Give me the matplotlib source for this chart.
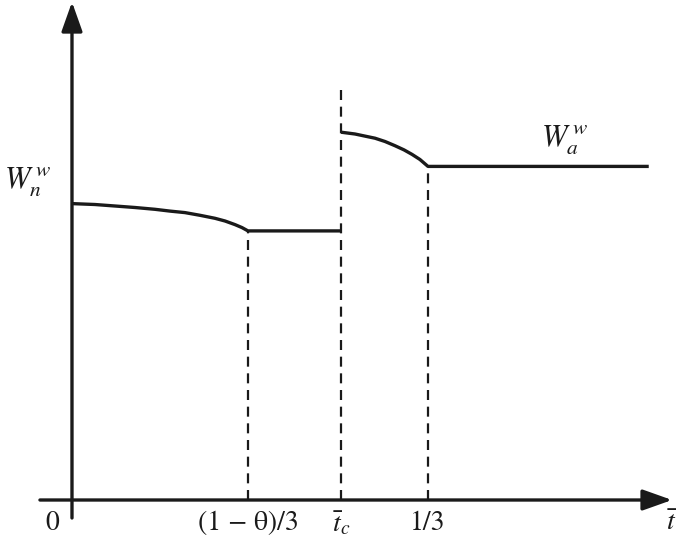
import matplotlib
matplotlib.use("Agg")
import matplotlib.pyplot as plt

plt.rcParams['mathtext.fontset'] = 'stix'
plt.rcParams['font.family'] = 'STIXGeneral'

# break points on the t axis
x_theta = 0.165      # (1 - theta)/3
x_tc = 0.252         # t_c bar
x_third = 0.3333     # 1/3
x_end = 0.540

# W_n^w branch
wn_t = [0.0, 0.0215, 0.0403, 0.059, 0.0777, 0.0918, 0.1058, 0.1199,
        0.1339, 0.1433, 0.1526, 0.1592, 0.1648, 0.252]
wn_w = [0.988, 0.985, 0.980, 0.975, 0.969, 0.963, 0.958, 0.949,
        0.939, 0.930, 0.918, 0.908, 0.897, 0.897]

# W_a^w branch
wa_t = [0.252, 0.265, 0.2743, 0.2837, 0.2931, 0.3024, 0.3109, 0.3184,
        0.3258, 0.3333, 0.540]
wa_w = [1.226, 1.220, 1.213, 1.206, 1.195, 1.181, 1.167, 1.152,
        1.135, 1.112, 1.112]

tick_pos = [x_theta, x_tc, x_third]
tick_lab = ['(1 \u2212 \u03b8)/3', r'$\bar{t}_c$', '1/3']
dash_top = [0.897, 1.377, 1.112]

ink = '#1a1a1a'

fig = plt.figure(figsize=(6.81, 5.42), dpi=100)
ax = fig.add_axes([0, 0, 1, 1])
ax.set_xlim(-0.0674, 0.5702)
ax.set_ylim(-0.14, 1.6667)
ax.axis('off')

# axes with arrow heads
arr = dict(arrowstyle='-|>,head_length=0.9,head_width=0.32', lw=2.4,
           color=ink, shrinkA=0, shrinkB=0, mutation_scale=20)
ax.annotate('', xy=(0, 1.66), xytext=(0, -0.06), arrowprops=arr)
ax.annotate('', xy=(0.5618, 0), xytext=(-0.030, 0), arrowprops=arr)

# dashed guides
for x, top in zip(tick_pos, dash_top):
    ax.plot([x, x], [0, top], ls=(0, (4.5, 3)), lw=1.6, color=ink)

ax.plot(wn_t, wn_w, color=ink, lw=2.4, solid_capstyle='butt', solid_joinstyle='round')
ax.plot(wa_t, wa_w, color=ink, lw=2.4, solid_capstyle='butt', solid_joinstyle='round')

# labels
fs = 20
ax.text(-0.0187, -0.077, '0', fontsize=fs, ha='center', va='center', color=ink)
for x, lab in zip(tick_pos, tick_lab):
    ax.text(x, -0.077, lab, fontsize=fs, ha='center', va='center', color=ink)
ax.text(0.5615, -0.077, r'$\bar{t}$', fontsize=fs, ha='center', va='center', color=ink)
ax.text(-0.0412, 1.06, r'$W_n^{\,w}$', fontsize=22, ha='center', va='center', color=ink)
ax.text(0.4616, 1.20, r'$W_a^{\,w}$', fontsize=22, ha='center', va='center', color=ink)

fig.savefig('out.png', dpi=100)
